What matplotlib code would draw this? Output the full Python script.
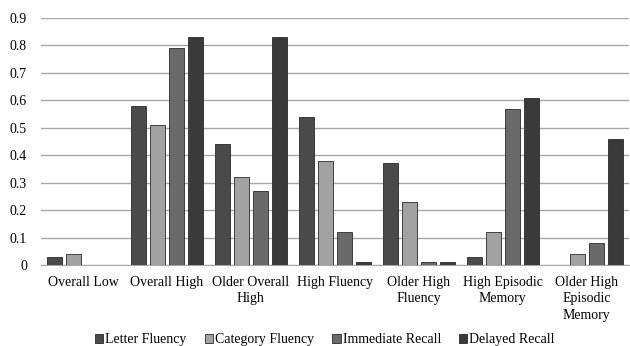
import numpy as np
import matplotlib.pyplot as plt

plt.rcParams['font.family'] = ['Liberation Serif', 'DejaVu Serif']

groups = ["Overall Low", "Overall High", "Older Overall\nHigh", "High Fluency",
          "Older High\nFluency", "High Episodic\nMemory", "Older High\nEpisodic\nMemory"]
series = ["Letter Fluency", "Category Fluency", "Immediate Recall", "Delayed Recall"]
letter = [0.03, 0.58, 0.44, 0.54, 0.37, 0.03, 0.0]
category = [0.04, 0.51, 0.32, 0.38, 0.23, 0.12, 0.04]
immediate = [0.0, 0.79, 0.27, 0.12, 0.01, 0.57, 0.08]
delayed = [0.0, 0.83, 0.83, 0.01, 0.01, 0.61, 0.46]
colors = ["#4a4a4a", "#a2a2a2", "#6a6a6a", "#3a3a3a"]

fig = plt.figure(figsize=(6.3, 3.46), dpi=100)
ax = fig.add_axes([0.065, 0.234, 0.933, 0.714])

x = np.arange(len(groups))
pitch = 0.226
width = 0.178
for i, (vals, c, name) in enumerate(zip([letter, category, immediate, delayed], colors, series)):
    ax.bar(x + (i - 1.5) * pitch, vals, width, color=c, edgecolor="#2a2a2a",
           linewidth=0.6, label=name, zorder=3)

ax.set_xlim(-0.5, len(groups) - 0.5)
ax.set_ylim(0, 0.9)
ax.set_yticks(np.arange(0, 0.91, 0.1))
ax.set_yticklabels(["0"] + [f"{v:.1f}" for v in np.arange(0.1, 0.91, 0.1)])
ax.set_xticks(x)
ax.set_xticklabels(groups, fontsize=10, linespacing=1.32)
ax.tick_params(axis="y", labelsize=10, length=0, pad=10)
ax.tick_params(axis="x", length=0, pad=8)
ax.grid(axis="y", color="#a8a8a8", linewidth=1.0, zorder=0)
for s in ["top", "right", "left"]:
    ax.spines[s].set_visible(False)
ax.spines["bottom"].set_color("#a8a8a8")

ax.legend(loc="lower center", bbox_to_anchor=(0.483, -0.38), ncol=4, frameon=False,
          fontsize=10, handlelength=0.6, handleheight=0.6, handletextpad=0.15,
          columnspacing=1.3)

fig.savefig("out.png", dpi=100)
